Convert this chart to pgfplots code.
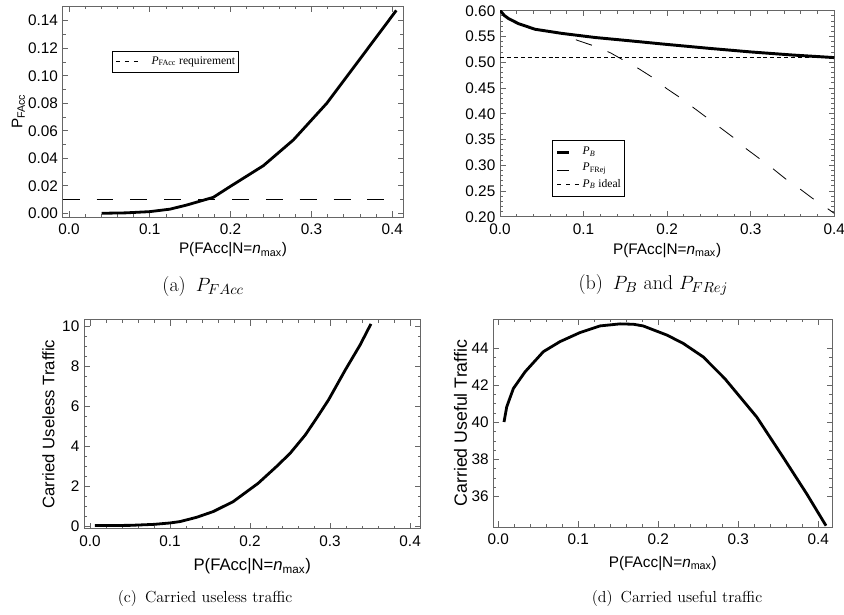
\documentclass[border=0pt]{standalone}
\usepackage{fontspec}
\setsansfont{Liberation Sans}
\newfontfamily\tnr{Liberation Serif}
\usepackage{pgfplots}
\pgfplotsset{compat=1.18}
\definecolor{framegray}{gray}{0.4}

\tikzset{capt/.style={font=\fontsize{12}{14}\selectfont\rmfamily},
  captbig/.style={font=\fontsize{15}{17}\selectfont\rmfamily}}
\pgfplotsset{
  mma/.style={
    scale only axis,
    axis line style={framegray, line width=0.7pt},
    tick style={framegray, line width=0.6pt},
    major tick length=4.2pt, minor tick length=2.2pt,
    tick align=inside, xtick pos=both, ytick pos=both,
    /pgf/number format/assume math mode=true,
    ticklabel style={font=\fontsize{11.5}{13}\sffamily, text=black},
    xticklabel style={yshift=-1.8pt},
    label style={font=\fontsize{11.5}{13}\sffamily},
    xtick={0,0.1,0.2,0.3,0.4},
    minor x tick num=4,
    scaled ticks=false,
    xticklabel style={/pgf/number format/.cd, fixed, fixed zerofill, precision=1},
    xlabel={P(FAcc|N=\textit{n}\textsubscript{max})},
    legend cell align=left,
    legend style={draw=black, line width=0.5pt, font=\fontsize{8.7}{10}\tnr,
      nodes={inner sep=0pt, text height=6.3pt, text depth=2.4pt}, column sep=0pt},
  },
}

\begin{document}
\begin{tikzpicture}
\useasboundingbox (0pt,0pt) rectangle (633pt,461.25pt);

% (a) P_FAcc
\begin{axis}[mma,
    at={(47pt,298.5pt)}, anchor=south west,
    width=255.5pt, height=158.25pt,
    xmin=-0.0078, xmax=0.4137, ymin=-0.0027, ymax=0.1507,
    ytick={0,0.02,0.04,0.06,0.08,0.10,0.12,0.14},
    minor y tick num=1,
    yticklabel style={/pgf/number format/.cd, fixed, fixed zerofill, precision=2},
    ylabel={P\textsubscript{FAcc}},
    xlabel style={at={(axis description cs:0.5,-0.156)}, anchor=center},
    ylabel style={at={(axis description cs:-0.13,0.5)}, anchor=center},
    legend style={at={(0.144,0.787)}, anchor=north west, inner xsep=2.5pt, inner ysep=3.4pt},
    after end axis/.code={\node[captbig] at (rel axis cs:0.412,-0.33) {(a)\enspace$P_{FAcc}$};},
]
\addlegendimage{legend image code/.code={\draw[black, line width=0.6pt, dash pattern=on 3.5pt off 3.25pt] (0pt,0pt) -- (17pt,0pt);}}
\addlegendentry{\hspace{9.5pt}\textit{P}\textsubscript{FAcc} requirement\hspace{15.5pt}}
\addplot[forget plot, black, line width=0.6pt, dash pattern=on 12.7pt off 12.7pt]
  coordinates {(-0.0078,0.0102)(0.397,0.0102)};
\addplot[forget plot, black, line width=2.1pt] coordinates {
  (0.0405,0.0000)(0.070,0.0003)(0.100,0.0012)(0.125,0.0030)(0.1457,0.0060)
  (0.1786,0.0116)(0.199,0.0193)(0.2405,0.0346)(0.2776,0.0533)(0.319,0.0800)
  (0.356,0.1090)(0.405,0.1475)
};
\end{axis}

% (b) P_B and P_FRej
\begin{axis}[mma,
    at={(375pt,298.7pt)}, anchor=south west,
    width=250.7pt, height=154.5pt,
    xmin=0, xmax=0.4, ymin=0.2, ymax=0.6,
    ytick={0.2,0.25,0.3,0.35,0.4,0.45,0.5,0.55,0.6},
    minor y tick num=4,
    yticklabel style={/pgf/number format/.cd, fixed, fixed zerofill, precision=2},
    xlabel style={at={(axis description cs:0.5,-0.162)}, anchor=center},
    legend style={at={(0.1556,0.372)}, anchor=north west, inner xsep=2.6pt, inner ysep=4.4pt,
      row sep=3.5pt},
    after end axis/.code={\node[captbig] at (rel axis cs:0.459,-0.332) {(b)\enspace$P_B$ and $P_{FRej}$};},
]
\addplot[black, line width=2.2pt,
  legend image code/.code={\draw[solid, black, line width=2.2pt] (0pt,0pt) -- (8.7pt,0pt);}] coordinates {
  (0.000,0.600)(0.002,0.597)(0.005,0.591)(0.010,0.585)(0.022,0.575)(0.042,0.564)
  (0.074,0.556)(0.114,0.548)(0.153,0.542)(0.197,0.535)(0.250,0.527)(0.300,0.520)
  (0.350,0.514)(0.400,0.509)
};
\addlegendentry{\hspace{2.5pt}\textit{P\textsubscript{B}}}
\addplot[black, line width=0.6pt, dash pattern=on 12.7pt off 12.7pt, dash phase=12.7pt,
  legend image code/.code={\draw[solid, black, line width=0.6pt] (0pt,-1.3pt) -- (8.7pt,-1.3pt);}] coordinates {
  (0.072,0.556)(0.094,0.5417)(0.113,0.5314)(0.132,0.5184)(0.149,0.5029)(0.166,0.4875)
  (0.183,0.4700)(0.199,0.4493)(0.215,0.4318)(0.231,0.4124)(0.247,0.3930)(0.263,0.3736)
  (0.279,0.3542)(0.294,0.3328)(0.310,0.3134)(0.326,0.2940)(0.342,0.2732)(0.358,0.2551)
  (0.374,0.2357)(0.390,0.2180)(0.400,0.2066)
};
\addlegendentry{\hspace{2.5pt}\textit{P}\textsubscript{FRej}}
\addplot[black, line width=0.6pt, dash pattern=on 3pt off 2.2pt,
  legend image code/.code={\draw[black, line width=0.6pt, dash pattern=on 3pt off 3.6pt] (0pt,0pt) -- (16.3pt,0pt);}]
  coordinates {(0,0.51)(0.4,0.51)};
\addlegendentry{\hspace{2.5pt}\textit{P\textsubscript{B}} ideal\hspace{36pt}}
\end{axis}

% (c) Carried useless traffic
\begin{axis}[mma,
    at={(63pt,64.9pt)}, anchor=south west,
    width=252.4pt, height=156.4pt,
    xmin=-0.0075, xmax=0.413, ymin=-0.125, ymax=10.3,
    ytick={0,2,4,6,8,10},
    minor y tick num=3,
    label style={font=\fontsize{12.5}{14}\sffamily},
    ylabel={Carried Useless Traffic},
    xlabel style={at={(axis description cs:0.5,-0.183)}, anchor=center},
    ylabel style={at={(axis description cs:-0.106,0.5)}, anchor=center},
    after end axis/.code={\node[capt] at (rel axis cs:0.36,-0.338) {(c)\enspace Carried useless traffic};},
]
\addplot[black, line width=2.1pt] coordinates {
  (0.006,0.02)(0.05,0.03)(0.08,0.08)(0.10,0.15)(0.1125,0.22)(0.133,0.43)(0.154,0.72)
  (0.179,1.22)(0.210,2.13)(0.233,2.97)(0.250,3.63)(0.269,4.55)(0.283,5.38)(0.298,6.30)
  (0.319,7.80)(0.3375,9.05)(0.351,10.1)
};
\end{axis}

% (d) Carried useful traffic
\begin{axis}[mma,
    at={(370pt,66pt)}, anchor=south west,
    width=254.25pt, height=155.8pt,
    xmin=-0.00625, xmax=0.4175, ymin=34.35, ymax=45.57,
    ytick={36,38,40,42,44},
    minor y tick num=3,
    ylabel={Carried Useful Traffic},
    ylabel style={font=\fontsize{13.3}{15}\sffamily},
    xlabel style={at={(axis description cs:0.5,-0.175)}, anchor=center},
    ylabel style={at={(axis description cs:-0.097,0.5)}, anchor=center},
    after end axis/.code={\node[capt] at (rel axis cs:0.542,-0.343) {(d)\enspace Carried useful traffic};},
]
\addplot[black, line width=2.1pt] coordinates {
  (0.0071,40.02)(0.0105,40.84)(0.0188,41.83)(0.0334,42.73)(0.0563,43.82)(0.077,44.36)
  (0.102,44.85)(0.127,45.21)(0.152,45.32)(0.169,45.30)(0.181,45.21)(0.2105,44.72)
  (0.231,44.27)(0.256,43.54)(0.283,42.37)(0.323,40.29)(0.356,38.12)(0.3855,36.14)
  (0.4096,34.42)
};
\end{axis}
\end{tikzpicture}
\end{document}
